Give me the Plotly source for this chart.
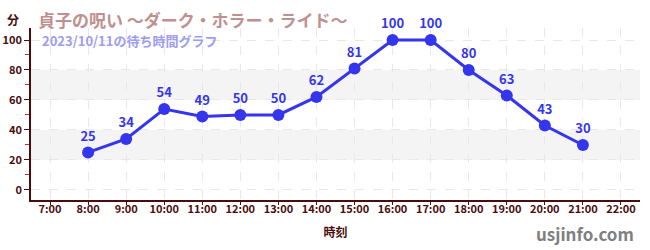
import plotly.graph_objects as go

hours = [8, 9, 10, 11, 12, 13, 14, 15, 16, 17, 18, 19, 20, 21]
waits = [25, 34, 54, 49, 50, 50, 62, 81, 100, 100, 80, 63, 43, 30]
tick_hours = list(range(7, 23))
tick_labels = [f"{h}:00" for h in tick_hours]
y_ticks = [0, 20, 40, 60, 80, 100]

title_text = "貞子の呪い ～ダーク・ホラー・ライド～"
subtitle_text = "2023/10/11の待ち時間グラフ"

FONT = "Noto Sans CJK JP"
AX = "#4a0c0c"
LINE = "#3535ee"

fig = go.Figure()
fig.add_trace(go.Scatter(
    x=hours, y=waits, mode="lines+markers+text",
    text=[str(v) for v in waits], textposition="top center",
    textfont=dict(family=FONT, size=13, color=LINE, weight="bold"),
    line=dict(color=LINE, width=3),
    marker=dict(color=LINE, size=12),
    cliponaxis=False, hoverinfo="skip", showlegend=False,
))

shapes = []
for lo, hi in [(20, 40), (60, 80)]:
    shapes.append(dict(type="rect", xref="paper", yref="y", x0=0, x1=1, y0=lo, y1=hi,
                       fillcolor="#f4f4f4", line=dict(width=0), layer="below"))
fig.update_layout(
    width=650, height=250,
    margin=dict(l=31, r=10, t=28, b=50),
    paper_bgcolor="white", plot_bgcolor="white",
    font=dict(family=FONT, color=AX),
    shapes=shapes,
    xaxis=dict(range=[6.5, 22.5], tickvals=tick_hours, ticktext=tick_labels,
               automargin=False, ticklabelstandoff=-5,
               tickfont=dict(family=FONT, size=11, color=AX, weight="bold"),
               showgrid=True, gridcolor="#e8e8e8", griddash="dash", gridwidth=1,
               showline=True, linecolor=AX, linewidth=1.5, ticks="outside",
               ticklen=3, tickcolor=AX, tickwidth=1, zeroline=False,
               title=dict(text="時刻", font=dict(family=FONT, size=12, color=AX, weight="bold"),
                          standoff=14)),
    yaxis=dict(range=[-6.7, 108], tickvals=y_ticks, automargin=False,
               tickfont=dict(family=FONT, size=11, color=AX, weight="bold"),
               showgrid=True, gridcolor="#e8e8e8", griddash="dash", gridwidth=1,
               showline=True, linecolor=AX, linewidth=1.5, ticks="outside",
               ticklen=5, tickcolor=AX, zeroline=False,
               minor=dict(tickvals=[10, 30, 50, 70, 90], ticks="outside", ticklen=4,
                          tickcolor="#dd2222", showgrid=False)),
    annotations=[
        dict(text="分", xref="paper", yref="paper", x=-0.03, y=1.0, yanchor="bottom",
             xanchor="center", yshift=-2, showarrow=False,
             font=dict(family=FONT, size=12, color=AX, weight="bold")),
        dict(text=title_text, xref="paper", yref="paper", x=0.008, y=1.0, xanchor="left",
             yanchor="bottom", yshift=-6, showarrow=False,
             font=dict(family=FONT, size=17, color="#c09090", weight="bold")),
        dict(text=subtitle_text, xref="paper", yref="paper", x=0.014, y=1.0, xanchor="left",
             yanchor="top", yshift=-1, showarrow=False,
             font=dict(family=FONT, size=13, color="#9d9df0", weight="bold")),
        dict(text="usjinfo.com", xref="paper", yref="paper", x=1.0, y=0, xanchor="right",
             yanchor="middle", xshift=-4, yshift=-33, showarrow=False,
             font=dict(family=FONT, size=17, color="#808080", weight="bold")),
    ],
)

fig.write_html("out.html")
